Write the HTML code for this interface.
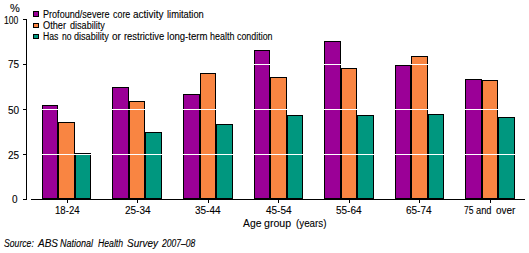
<!DOCTYPE html>
<html><head><meta charset="utf-8"><style>
html,body{margin:0;padding:0;background:#fff;width:529px;height:253px;overflow:hidden}
svg{display:block}
text{font-family:"Liberation Sans",sans-serif;fill:#000;stroke:#000;stroke-width:0.1px}
</style></head><body>
<svg width="529" height="253" viewBox="0 0 529 253" shape-rendering="crispEdges">
<rect x="42" y="105" width="16" height="94" fill="#000"/>
<rect x="43" y="106" width="14" height="92" fill="#9B0097"/>
<rect x="58" y="122" width="17" height="77" fill="#000"/>
<rect x="59" y="123" width="15" height="75" fill="#F98542"/>
<rect x="75" y="153" width="16" height="46" fill="#000"/>
<rect x="76" y="154" width="14" height="44" fill="#00977F"/>
<rect x="112" y="87" width="17" height="112" fill="#000"/>
<rect x="113" y="88" width="15" height="110" fill="#9B0097"/>
<rect x="129" y="101" width="16" height="98" fill="#000"/>
<rect x="130" y="102" width="14" height="96" fill="#F98542"/>
<rect x="145" y="132" width="17" height="67" fill="#000"/>
<rect x="146" y="133" width="15" height="65" fill="#00977F"/>
<rect x="183" y="94" width="17" height="105" fill="#000"/>
<rect x="184" y="95" width="15" height="103" fill="#9B0097"/>
<rect x="200" y="73" width="16" height="126" fill="#000"/>
<rect x="201" y="74" width="14" height="124" fill="#F98542"/>
<rect x="216" y="124" width="17" height="75" fill="#000"/>
<rect x="217" y="125" width="15" height="73" fill="#00977F"/>
<rect x="254" y="50" width="16" height="149" fill="#000"/>
<rect x="255" y="51" width="14" height="147" fill="#9B0097"/>
<rect x="270" y="77" width="17" height="122" fill="#000"/>
<rect x="271" y="78" width="15" height="120" fill="#F98542"/>
<rect x="287" y="115" width="16" height="84" fill="#000"/>
<rect x="288" y="116" width="14" height="82" fill="#00977F"/>
<rect x="324" y="41" width="17" height="158" fill="#000"/>
<rect x="325" y="42" width="15" height="156" fill="#9B0097"/>
<rect x="341" y="68" width="16" height="131" fill="#000"/>
<rect x="342" y="69" width="14" height="129" fill="#F98542"/>
<rect x="357" y="115" width="17" height="84" fill="#000"/>
<rect x="358" y="116" width="15" height="82" fill="#00977F"/>
<rect x="395" y="65" width="16" height="134" fill="#000"/>
<rect x="396" y="66" width="14" height="132" fill="#9B0097"/>
<rect x="411" y="56" width="17" height="143" fill="#000"/>
<rect x="412" y="57" width="15" height="141" fill="#F98542"/>
<rect x="428" y="114" width="16" height="85" fill="#000"/>
<rect x="429" y="115" width="14" height="83" fill="#00977F"/>
<rect x="465" y="79" width="17" height="120" fill="#000"/>
<rect x="466" y="80" width="15" height="118" fill="#9B0097"/>
<rect x="482" y="80" width="16" height="119" fill="#000"/>
<rect x="483" y="81" width="14" height="117" fill="#F98542"/>
<rect x="498" y="117" width="17" height="82" fill="#000"/>
<rect x="499" y="118" width="15" height="80" fill="#00977F"/>
<rect x="27" y="154" width="498" height="1" fill="#fff"/>
<rect x="27" y="109" width="498" height="1" fill="#fff"/>
<rect x="27" y="64" width="498" height="1" fill="#fff"/>
<rect x="26" y="19" width="1" height="181" fill="#000"/>
<rect x="23" y="19" width="3" height="1" fill="#000"/>
<rect x="23" y="64" width="3" height="1" fill="#000"/>
<rect x="23" y="109" width="3" height="1" fill="#000"/>
<rect x="23" y="154" width="3" height="1" fill="#000"/>
<rect x="23" y="199" width="3" height="1" fill="#000"/>
<rect x="31" y="199" width="494" height="1" fill="#000"/>
<rect x="67" y="200" width="1" height="3" fill="#000"/>
<rect x="137" y="200" width="1" height="3" fill="#000"/>
<rect x="208" y="200" width="1" height="3" fill="#000"/>
<rect x="278" y="200" width="1" height="3" fill="#000"/>
<rect x="349" y="200" width="1" height="3" fill="#000"/>
<rect x="419" y="200" width="1" height="3" fill="#000"/>
<rect x="490" y="200" width="1" height="3" fill="#000"/>
<rect x="33" y="11" width="6" height="6" fill="#000"/>
<rect x="34" y="12" width="4" height="4" fill="#9B0097"/>
<rect x="33" y="23" width="6" height="5" fill="#000"/>
<rect x="34" y="24" width="4" height="3" fill="#F98542"/>
<rect x="33" y="34" width="6" height="5" fill="#000"/>
<rect x="34" y="35" width="4" height="3" fill="#00977F"/>
<text x="10.00" y="12" font-size="11" textLength="9.78" lengthAdjust="spacingAndGlyphs">%</text>
<text x="4.00" y="24" font-size="10" textLength="14.29" lengthAdjust="spacingAndGlyphs">100</text>
<text x="8.00" y="68" font-size="10" textLength="11.12" lengthAdjust="spacingAndGlyphs">75</text>
<text x="8.00" y="114" font-size="10" textLength="11.12" lengthAdjust="spacingAndGlyphs">50</text>
<text x="8.00" y="159" font-size="10" textLength="11.12" lengthAdjust="spacingAndGlyphs">25</text>
<text x="12.00" y="203" font-size="10" textLength="5.56" lengthAdjust="spacingAndGlyphs">0</text>
<text x="43.00" y="18" font-size="10" textLength="66.53" lengthAdjust="spacingAndGlyphs">Profound/severe</text>
<text x="113.00" y="18" font-size="10" textLength="17.32" lengthAdjust="spacingAndGlyphs">core</text>
<text x="133.00" y="18" font-size="10" textLength="30.56" lengthAdjust="spacingAndGlyphs">activity</text>
<text x="167.00" y="18" font-size="10" textLength="36.80" lengthAdjust="spacingAndGlyphs">limitation</text>
<text x="43.00" y="29" font-size="10" textLength="23.02" lengthAdjust="spacingAndGlyphs">Other</text>
<text x="70.00" y="29" font-size="10" textLength="34.80" lengthAdjust="spacingAndGlyphs">disability</text>
<text x="43.00" y="40" font-size="10" textLength="15.40" lengthAdjust="spacingAndGlyphs">Has</text>
<text x="62.00" y="40" font-size="10" textLength="9.53" lengthAdjust="spacingAndGlyphs">no</text>
<text x="74.00" y="40" font-size="10" textLength="34.80" lengthAdjust="spacingAndGlyphs">disability</text>
<text x="112.00" y="40" font-size="10" textLength="8.91" lengthAdjust="spacingAndGlyphs">or</text>
<text x="124.00" y="40" font-size="10" textLength="40.16" lengthAdjust="spacingAndGlyphs">restrictive</text>
<text x="167.00" y="40" font-size="10" textLength="40.45" lengthAdjust="spacingAndGlyphs">long-term</text>
<text x="210.00" y="40" font-size="10" textLength="24.37" lengthAdjust="spacingAndGlyphs">health</text>
<text x="237.00" y="40" font-size="10" textLength="35.53" lengthAdjust="spacingAndGlyphs">condition</text>
<text x="55.00" y="214" font-size="10" textLength="24.58" lengthAdjust="spacingAndGlyphs">18-24</text>
<text x="125.00" y="214" font-size="10" textLength="25.58" lengthAdjust="spacingAndGlyphs">25-34</text>
<text x="195.00" y="214" font-size="10" textLength="25.58" lengthAdjust="spacingAndGlyphs">35-44</text>
<text x="266.00" y="214" font-size="10" textLength="25.58" lengthAdjust="spacingAndGlyphs">45-54</text>
<text x="336.00" y="214" font-size="10" textLength="25.58" lengthAdjust="spacingAndGlyphs">55-64</text>
<text x="406.00" y="214" font-size="10" textLength="25.58" lengthAdjust="spacingAndGlyphs">65-74</text>
<text x="464.00" y="214" font-size="10" textLength="9.53" lengthAdjust="spacingAndGlyphs">75</text>
<text x="476.00" y="214" font-size="10" textLength="15.49" lengthAdjust="spacingAndGlyphs">and</text>
<text x="496.00" y="214" font-size="10" textLength="19.45" lengthAdjust="spacingAndGlyphs">over</text>
<text x="243.00" y="227" font-size="11" textLength="18.38" lengthAdjust="spacingAndGlyphs">Age</text>
<text x="264.00" y="227" font-size="11" textLength="27.14" lengthAdjust="spacingAndGlyphs">group</text>
<text x="296.00" y="227" font-size="11" textLength="30.50" lengthAdjust="spacingAndGlyphs">(years)</text>
<text x="4.00" y="247" font-size="10" font-style="italic" textLength="29.80" lengthAdjust="spacingAndGlyphs">Source:</text>
<text x="38.00" y="247" font-size="10" font-style="italic" textLength="20.02" lengthAdjust="spacingAndGlyphs">ABS</text>
<text x="60.00" y="247" font-size="10" font-style="italic" textLength="33.05" lengthAdjust="spacingAndGlyphs">National</text>
<text x="98.00" y="247" font-size="10" font-style="italic" textLength="25.07" lengthAdjust="spacingAndGlyphs">Health</text>
<text x="127.00" y="247" font-size="10" font-style="italic" textLength="31.12" lengthAdjust="spacingAndGlyphs">Survey</text>
<text x="162.00" y="247" font-size="10" font-style="italic" textLength="33.34" lengthAdjust="spacingAndGlyphs">2007&#8211;08</text>
</svg>
</body></html>
